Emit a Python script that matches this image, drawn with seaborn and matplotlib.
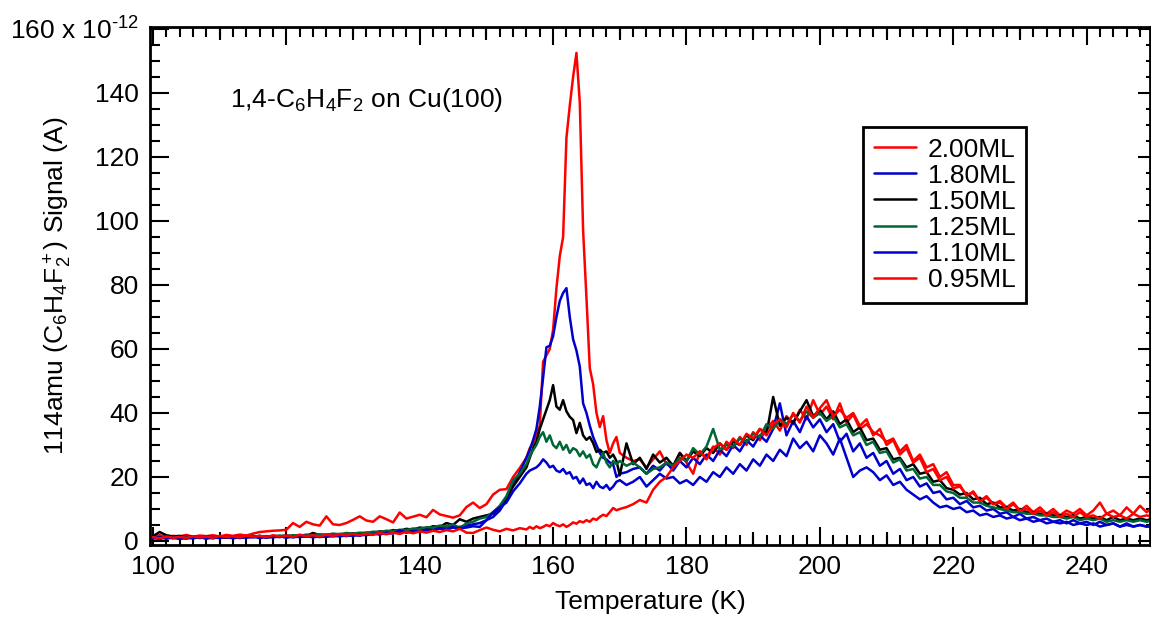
import numpy as np
import pandas as pd
import matplotlib
matplotlib.use("Agg")
import matplotlib.pyplot as plt
import seaborn as sns
from matplotlib.ticker import MultipleLocator, FixedLocator

# temperature grid (K): 1 K steps, 0.5 K around the sharp multilayer peak
temps = np.concatenate([np.arange(100, 156), np.arange(156, 170, 0.5), np.arange(170, 251)])

labels = ["2.00ML", "1.80ML", "1.50ML", "1.25ML", "1.10ML", "0.95ML"]
colors = ["#ff0000", "#0000cc", "#000000", "#006633", "#0000cc", "#ff0000"]

# signal in units of 1e-12 A
r200 = [1.5, 1.8, 1.2, 1.6, 1.4, 1.9, 1.3, 1.7, 1.5, 1.8,
        1.4, 1.9, 1.6, 2.0, 1.7, 2.3, 2.8, 3.0, 3.2, 3.3,
        3.5, 5.6, 4.4, 6.0, 5.2, 4.8, 7.7, 5.2, 5.0, 5.6,
        6.6, 7.7, 6.4, 6.0, 7.7, 6.8, 5.8, 8.9, 7.0, 7.6,
        8.2, 7.4, 9.7, 8.3, 7.8, 7.3, 8.0, 10.6, 12.0, 10.3,
        11.5, 14.5, 16.0, 16.2, 20.0, 22.8,
        26.0, 29.0, 30.5, 33.0, 36.0, 56.0, 58.0, 60.0, 66.0, 79.0,
        89.0, 95.0, 126.0, 136.0, 145.0, 152.5, 137.0, 97.0, 76.0, 54.0,
        49.0, 40.0, 35.6, 39.0, 31.5, 27.5, 30.5, 32.5,
        27.5, 26.0, 25.0, 25.5, 23.0, 25.5, 28.0, 24.0, 23.0, 27.5,
        24.5, 21.0, 28.0, 26.0, 29.5, 27.0, 31.0, 29.0, 32.5, 30.0,
        34.0, 31.5, 35.0, 37.5, 34.5, 39.0, 36.5, 41.0, 38.0, 44.0,
        39.5, 42.0, 38.0, 43.0, 37.0, 39.5, 35.0, 36.5, 34.0, 33.0,
        31.0, 32.0, 28.0, 30.0, 25.0, 27.0, 23.0, 24.0, 20.0, 21.5,
        17.5, 17.5, 14.0, 15.5, 12.5, 14.0, 11.5, 12.5, 10.5, 12.0,
        9.5, 11.0, 9.0, 10.5, 8.5, 10.0, 8.0, 9.5, 8.5, 10.0,
        8.0, 9.5, 12.0, 8.5, 9.5, 8.0, 10.5, 8.5, 11.0, 9.0,
        10.5]

b180 = [1.0, 0.6, 1.2, 0.8, 1.1, 0.7, 1.3, 0.9, 1.2, 0.8,
        1.3, 1.0, 1.4, 0.9, 1.3, 1.1, 1.5, 1.0, 1.4, 1.2,
        1.6, 1.1, 1.5, 1.3, 1.7, 1.2, 1.6, 1.4, 1.8, 1.5,
        2.0, 1.6, 2.2, 2.0, 2.6, 2.3, 2.9, 2.5, 3.2, 3.0,
        3.6, 3.3, 4.0, 3.8, 4.5, 4.3, 4.4, 4.8, 5.2, 5.6,
        6.5, 7.5, 9.5, 12.8, 17.5, 21.5,
        26.0, 28.5, 31.5, 35.0, 42.0, 51.0, 60.5, 61.0, 64.0, 70.0,
        75.0, 77.5, 79.0, 70.0, 63.0, 59.5, 54.5, 43.0, 40.0, 36.0,
        32.5, 30.0, 27.5, 26.0, 25.5, 24.5, 24.0, 20.0,
        21.0, 21.5, 22.5, 23.0, 21.0, 23.5, 22.0, 24.5, 22.0, 25.0,
        23.0, 26.0, 24.0, 27.0, 25.0, 28.5, 26.5, 30.0, 28.0, 31.5,
        29.5, 33.0, 31.0, 35.0, 43.0, 33.0, 37.5, 34.0, 39.0, 35.5,
        38.0, 34.0, 36.5, 31.0, 33.5, 28.0, 30.5, 26.0, 27.5, 23.5,
        25.0, 21.0, 22.5, 19.0, 20.0, 17.0, 18.0, 15.0, 15.5, 13.0,
        13.5, 11.5, 12.5, 10.5, 11.0, 9.5, 10.0, 8.5, 9.0, 7.5,
        8.5, 7.0, 7.5, 6.5, 7.0, 6.0, 6.5, 5.5, 6.5, 5.5,
        6.0, 5.0, 6.0, 5.0, 5.5, 4.5, 5.5, 4.5, 5.0, 4.5,
        5.0]

k150 = [1.5, 2.8, 1.8, 1.4, 1.6, 1.2, 1.5, 1.1, 1.4, 1.2,
        1.3, 1.0, 1.4, 1.2, 1.5, 1.3, 1.6, 1.2, 1.5, 1.4,
        1.7, 1.5, 1.9, 1.6, 2.5, 1.8, 2.0, 1.8, 2.2, 2.0,
        2.4, 2.2, 2.6, 2.5, 3.0, 2.8, 3.4, 3.2, 3.8, 3.5,
        4.2, 3.9, 4.6, 4.4, 5.6, 5.0, 6.8, 6.0, 7.0, 7.5,
        8.0, 8.5, 10.5, 13.5, 17.0, 20.0,
        23.0, 26.0, 29.0, 31.0, 35.0, 38.0, 41.0, 44.0, 48.7, 42.0,
        41.0, 44.0, 40.5, 38.8, 37.8, 33.7, 36.9, 33.0, 31.6, 32.5,
        30.6, 27.8, 28.5, 27.5, 28.0, 26.0, 27.0, 25.0,
        20.5, 30.5, 24.0, 26.0, 22.5, 27.0, 24.5, 26.0, 23.5, 27.5,
        25.0, 28.0, 26.5, 29.0, 27.5, 30.5, 28.5, 31.0, 30.0, 33.0,
        31.5, 35.0, 33.5, 45.0, 36.0, 38.5, 37.0, 40.5, 44.0, 39.0,
        41.0, 38.0, 40.5, 36.5, 38.0, 34.0, 35.5, 31.5, 32.0, 28.5,
        29.0, 25.5, 26.0, 23.0, 24.0, 21.0, 21.5, 18.5, 19.0, 16.5,
        16.0, 14.5, 15.0, 13.0, 13.5, 11.5, 12.0, 10.5, 10.5, 9.5,
        10.0, 9.0, 9.0, 8.5, 8.5, 8.0, 8.0, 7.5, 8.0, 7.0,
        7.5, 7.0, 7.5, 6.5, 7.5, 6.5, 7.0, 6.5, 7.0, 6.5,
        7.0]

g125 = [1.0, 1.3, 0.9, 1.2, 1.0, 1.4, 1.1, 1.3, 1.0, 1.4,
        1.2, 1.5, 1.1, 1.4, 1.2, 1.6, 1.3, 1.5, 1.4, 1.7,
        1.5, 1.8, 1.6, 2.0, 1.8, 2.1, 1.9, 2.3, 2.1, 2.5,
        2.3, 2.6, 2.5, 2.9, 2.8, 3.2, 3.1, 3.5, 3.4, 3.9,
        3.8, 4.3, 4.2, 4.8, 4.6, 5.2, 4.0, 5.5, 6.0, 7.0,
        7.5, 9.0, 11.0, 14.0, 19.0, 21.0,
        24.0, 26.5, 28.4, 30.0, 32.5, 34.0, 31.0, 33.0, 30.0, 29.0,
        31.0, 28.5, 30.0, 27.5, 29.0, 28.4, 26.5, 28.0, 26.0, 27.0,
        24.0, 23.0, 25.5, 27.5, 24.5, 23.0, 25.0, 24.0,
        25.0, 23.5, 24.5, 23.0, 21.0, 22.5, 23.0, 24.5, 23.5, 26.0,
        25.0, 29.0, 27.0, 29.5, 35.0, 28.5, 30.0, 29.5, 32.0, 31.0,
        33.5, 32.5, 36.5, 35.0, 38.0, 36.5, 39.5, 37.5, 40.5, 38.5,
        40.0, 37.5, 39.0, 35.5, 36.5, 33.0, 34.0, 30.0, 31.0, 27.5,
        28.0, 24.5, 25.5, 22.0, 22.5, 19.5, 20.0, 17.5, 17.5, 15.5,
        15.0, 13.5, 13.5, 12.0, 12.0, 11.0, 10.5, 10.0, 9.5, 9.0,
        9.0, 8.5, 8.5, 8.0, 8.0, 7.5, 7.5, 7.0, 7.5, 6.5,
        7.0, 6.5, 7.0, 6.0, 6.5, 6.0, 6.5, 6.0, 6.5, 6.0,
        6.5]

b110 = [0.8, 1.2, 0.7, 1.1, 0.6, 1.0, 0.8, 1.2, 0.7, 1.1,
        0.9, 1.3, 0.8, 1.2, 1.0, 1.4, 0.9, 1.3, 1.1, 1.5,
        1.0, 1.4, 1.2, 1.6, 1.1, 1.5, 1.3, 1.7, 1.4, 1.8,
        1.6, 2.0, 1.8, 2.3, 2.0, 2.6, 2.3, 3.4, 2.6, 3.0,
        2.8, 3.5, 3.2, 3.9, 3.6, 4.2, 4.0, 4.2, 4.6, 4.4,
        6.5, 9.0, 10.5, 12.0, 15.5, 18.0,
        21.0, 22.0, 22.5, 23.0, 24.0, 25.5, 24.5, 23.0, 23.5, 22.0,
        21.5, 22.5, 21.0, 21.5, 19.5, 20.0, 18.0, 19.5, 17.5, 18.0,
        16.5, 18.5, 17.0, 16.5, 17.5, 16.0, 17.0, 18.5,
        19.0, 17.5, 18.5, 20.0, 17.0, 19.0, 21.0, 19.5, 20.0, 18.0,
        19.0, 17.5, 20.0, 18.5, 21.5, 20.0, 23.0, 21.0, 24.0, 22.0,
        25.5, 23.5, 27.0, 25.0, 28.5, 26.5, 32.0, 29.0, 31.0, 28.0,
        33.0, 30.5, 27.0, 32.0, 26.0, 20.0, 22.0, 23.0, 21.5, 19.0,
        20.5, 17.5, 18.5, 16.0, 14.5, 13.0, 14.0, 12.0, 10.5, 11.0,
        10.0, 10.5, 9.0, 9.5, 8.0, 8.5, 7.5, 8.0, 7.0, 7.5,
        6.5, 7.0, 6.0, 6.5, 5.5, 6.0, 5.5, 6.0, 5.0, 5.5,
        5.0, 5.5, 4.5, 5.0, 5.5, 4.5, 5.0, 4.5, 5.0, 4.5,
        4.5]

r095 = [1.2, 0.8, 1.4, 1.0, 1.3, 0.9, 1.5, 1.1, 1.4, 1.0,
        1.6, 1.2, 1.5, 1.1, 1.7, 1.3, 1.6, 1.2, 1.8, 1.4,
        1.7, 1.3, 1.9, 1.5, 1.8, 1.4, 2.0, 1.6, 2.1, 1.7,
        2.2, 1.8, 2.3, 2.0, 2.5, 2.1, 2.6, 2.2, 2.9, 2.4,
        3.0, 2.6, 3.2, 2.8, 3.4, 3.0, 3.8, 2.6, 2.5, 3.4,
        4.2, 3.5, 3.0, 3.8, 3.3, 4.0,
        3.6, 4.4, 3.8, 4.6, 4.0, 4.4, 5.0, 4.6, 5.6, 5.0,
        4.6, 5.2, 4.4, 5.0, 5.8, 5.4, 6.2, 5.8, 6.5, 6.0,
        7.0, 6.6, 7.5, 8.2, 7.8, 9.0, 10.3, 9.6,
        10.0, 10.6, 11.5, 12.8, 12.0, 16.0, 18.5, 20.0, 23.0, 25.0,
        27.0, 26.0, 28.0, 25.5, 29.0, 30.5, 28.5, 32.0, 30.0, 33.5,
        32.0, 35.0, 33.0, 36.5, 38.0, 35.5, 40.0, 37.0, 42.0, 38.5,
        41.5, 44.0, 39.0, 41.0, 38.5, 40.0, 36.0, 38.0, 33.0, 35.0,
        30.0, 31.5, 27.0, 29.0, 24.5, 26.0, 21.5, 22.5, 19.0, 20.0,
        16.5, 17.0, 14.5, 15.0, 12.5, 13.5, 11.5, 12.0, 10.0, 11.5,
        9.5, 10.0, 8.5, 9.5, 8.0, 9.0, 7.5, 8.5, 7.5, 9.0,
        7.5, 8.0, 7.0, 8.5, 7.5, 8.0, 7.0, 8.5, 7.5, 8.0,
        7.5]

series = [r200, b180, k150, g125, b110, r095]
df = pd.concat([pd.DataFrame({"T": temps, "signal": vals, "coverage": lab})
                for lab, vals in zip(labels, series)], ignore_index=True)

sns.set_style("ticks")
plt.rcParams["font.family"] = ["Liberation Sans", "DejaVu Sans"]
plt.rcParams["mathtext.fontset"] = "custom"
plt.rcParams["mathtext.rm"] = "Liberation Sans"
plt.rcParams["mathtext.it"] = "Liberation Sans:italic"
plt.rcParams["mathtext.bf"] = "Liberation Sans:bold"
plt.rcParams["text.color"] = "black"
plt.rcParams["axes.labelcolor"] = "black"
plt.rcParams["xtick.color"] = "black"
plt.rcParams["ytick.color"] = "black"

fs = 19

fig = plt.figure(figsize=(11.51, 6.2), dpi=100)
ax = fig.add_axes([0.1303, 0.121, 0.8688, 0.8355])

sns.lineplot(data=df, x="T", y="signal", hue="coverage", hue_order=labels,
             palette=colors, estimator=None, sort=False, linewidth=1.8, ax=ax)

ax.set_xlim(99.55, 249.5)
ax.set_ylim(-1.25, 160.6)

for s in ax.spines.values():
    s.set_visible(True)
    s.set_linewidth(2)
    s.set_color("black")

ax.xaxis.set_major_locator(MultipleLocator(20))
ax.xaxis.set_minor_locator(MultipleLocator(2))
ax.yaxis.set_major_locator(FixedLocator(np.arange(0, 161, 20)))
ax.yaxis.set_minor_locator(MultipleLocator(5))
ax.set_yticklabels([str(v) for v in range(0, 160, 20)] + [r"160 x 10$^{\text{-12}}$"])

ax.tick_params(which="both", direction="in", top=True, right=False, width=1.5,
               colors="black", labelcolor="black", labelsize=fs)
ax.tick_params(axis="x", which="major", length=13, pad=7)
ax.tick_params(axis="x", which="minor", length=7)
ax.tick_params(axis="y", which="major", length=14, pad=8)
ax.tick_params(axis="y", which="minor", length=7.5)

# right axis: shorter mirrored ticks
sec_r = ax.secondary_yaxis("right")
sec_r.yaxis.set_major_locator(MultipleLocator(20))
sec_r.yaxis.set_minor_locator(MultipleLocator(5))
sec_r.tick_params(which="both", direction="in", width=1.5, colors="black", labelright=False)
sec_r.tick_params(which="major", length=8.5)
sec_r.tick_params(which="minor", length=3)
sec_r.spines["right"].set_visible(False)

# medium ticks every 10 K on bottom and top
for loc in ["bottom", "top"]:
    sec_x = ax.secondary_xaxis(loc)
    sec_x.xaxis.set_major_locator(FixedLocator(np.arange(110, 251, 20)))
    sec_x.tick_params(direction="in", width=1.5, length=9.5, colors="black",
                      labelbottom=False, labeltop=False)
    sec_x.spines[loc].set_visible(False)

ax.set_xlabel("Temperature (K)", fontsize=fs, labelpad=8, color="black")
ax.set_ylabel(r"114amu (C$_6$H$_4$F$_2^+$) Signal (A)", fontsize=fs, color="black")
ax.yaxis.set_label_coords(-0.076, 0.5)

ax.text(0.08, 0.859, r"1,4-C$_6$H$_4$F$_2$ on Cu(100)", transform=ax.transAxes,
        fontsize=fs, va="center", ha="left", color="black")

handles, labs = ax.get_legend_handles_labels()
leg = ax.legend(handles, labs, loc="upper left", bbox_to_anchor=(0.713, 0.807),
                borderaxespad=0, frameon=True, fancybox=False, edgecolor="black",
                fontsize=fs, handlelength=1.6, handletextpad=0.45,
                labelspacing=0.08, borderpad=0.4, framealpha=1, labelcolor="black")
leg.get_frame().set_linewidth(2)

fig.savefig("out.png", dpi=100)
